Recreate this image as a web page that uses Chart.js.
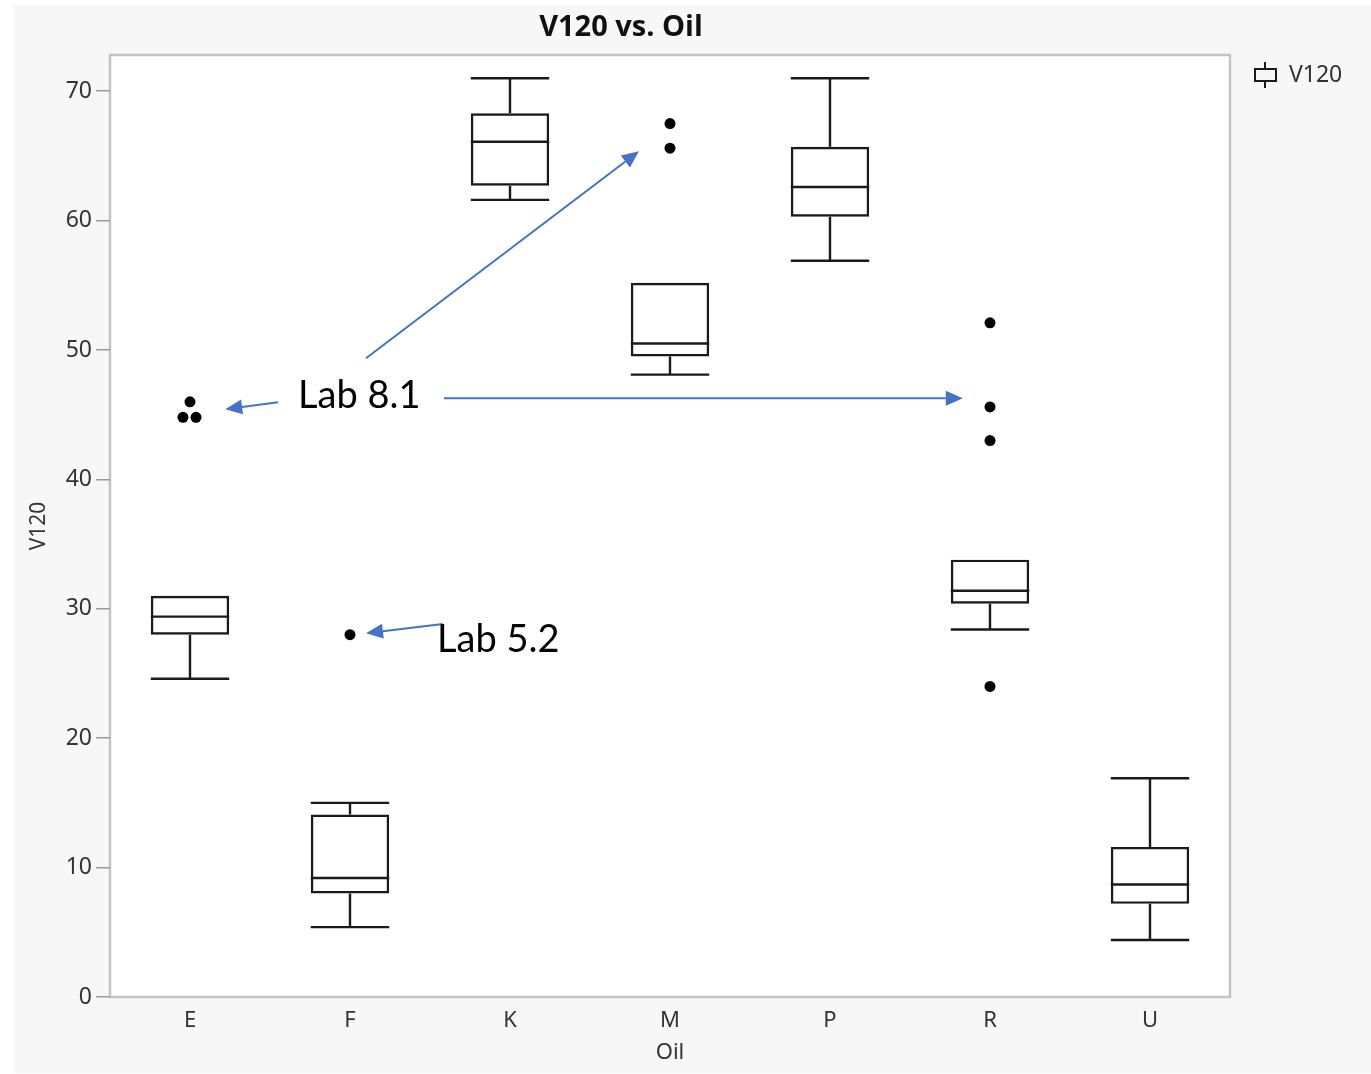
<!DOCTYPE html>
<html>
<head>
<meta charset="utf-8">
<title>V120 vs. Oil</title>
<script src="https://cdn.jsdelivr.net/npm/chart.js@4.4.1/dist/chart.umd.min.js"></script>
<style>
  html, body { margin: 0; padding: 0; background: #fff; }
  canvas { display: block; }
</style>
</head>
<body>
<canvas id="grafico" width="1371" height="1074"></canvas>
<script>
// datos
const categorias = ['E', 'F', 'K', 'M', 'P', 'R', 'U'];
const bigoteBajo = [24.6, 5.4, 61.6, 48.1, 56.9, 28.4, 4.4];
const q1 = [28.0, 8.0, 62.7, 49.5, 60.3, 30.4, 7.2];
const mediana = [29.4, 9.2, 66.1, 50.5, 62.6, 31.4, 8.7];
const q3 = [31.0, 14.1, 68.3, 55.2, 65.7, 33.8, 11.6];
const bigoteAlto = [31.0, 15.0, 71.0, 55.2, 71.0, 33.8, 16.9];

// puntos atípicos: categoría, valor
const atipicosCat = [0, 0, 0, 1, 3, 3, 5, 5, 5, 5];
const atipicosVal = [46.0, 44.8, 44.8, 28.0, 67.5, 65.6, 52.1, 45.6, 43.0, 24.0];
const atipicosJitter = [0, -0.044, 0.0375, 0, 0, 0, 0, 0, 0, 0];

const ticksY = [0, 10, 20, 30, 40, 50, 60, 70];
const maxY = 72.8;

// anotaciones (en coordenadas de datos)
const notas = [
    { texto: 'Lab 8.1', x: 0.675, y: 45.5 },
    { texto: 'Lab 5.2', x: 1.544, y: 26.66 }
];
const flechas = [
    { x0: 0.55, y0: 45.97, x1: 0.22, y1: 45.43 },
    { x0: 1.10, y0: 49.37, x1: 2.806, y1: 65.36 },
    { x0: 1.5875, y0: 46.28, x1: 4.83, y1: 46.28 },
    { x0: 1.58, y0: 28.82, x1: 1.10, y1: 28.12 }
];

const AZUL = '#4472C4';
const NEGRO = '#1a1a1a';
const TEXTO = '#333';

// Fondo gris, área blanca, título y leyenda
const fondoPlugin = {
    id: 'fondo',
    beforeDraw(chart) {
        const { ctx, chartArea: a } = chart;
        ctx.save();
        ctx.fillStyle = '#f7f7f7';
        ctx.fillRect(14, 5, chart.width - 14, 1068);
        ctx.fillStyle = '#fff';
        ctx.fillRect(a.left, a.top, a.right - a.left, a.bottom - a.top);
        ctx.strokeStyle = '#c4c4c4';
        ctx.lineWidth = 2.5;
        ctx.strokeRect(a.left, a.top, a.right - a.left, a.bottom - a.top);

        // título
        ctx.fillStyle = '#111';
        ctx.font = 'bold 29px "Open Sans"';
        ctx.textAlign = 'center';
        ctx.textBaseline = 'middle';
        ctx.fillText('V120 vs. Oil', 621, 28);

        // leyenda
        ctx.strokeStyle = NEGRO;
        ctx.lineWidth = 2;
        ctx.beginPath();
        ctx.moveTo(1265, 62); ctx.lineTo(1265, 88);
        ctx.stroke();
        ctx.fillStyle = '#f7f7f7';
        ctx.fillRect(1255, 69, 21, 12);
        ctx.strokeRect(1255, 69, 21, 12);
        ctx.fillStyle = TEXTO;
        ctx.font = '23px "Noto Sans"';
        ctx.textAlign = 'left';
        ctx.fillText('V120', 1289, 75);
        ctx.restore();
    }
};

// Bigotes y medianas sobre las cajas
const cajasPlugin = {
    id: 'cajas',
    afterDatasetsDraw(chart) {
        const { ctx } = chart;
        const y = chart.scales.y;
        const meta = chart.getDatasetMeta(0);
        ctx.save();
        ctx.strokeStyle = NEGRO;
        ctx.lineWidth = 2.4;
        meta.data.forEach((bar, i) => {
            const x = bar.x;
            const w = bar.width / 2;
            const yMed = y.getPixelForValue(mediana[i]);
            const yQ1 = y.getPixelForValue(q1[i]);
            const yQ3 = y.getPixelForValue(q3[i]);
            const yLo = y.getPixelForValue(bigoteBajo[i]);
            const yHi = y.getPixelForValue(bigoteAlto[i]);
            ctx.beginPath();
            ctx.moveTo(x - w, yMed); ctx.lineTo(x + w, yMed);
            if (bigoteAlto[i] > q3[i]) {
                ctx.moveTo(x, yQ3); ctx.lineTo(x, yHi);
                ctx.moveTo(x - w, yHi); ctx.lineTo(x + w, yHi);
            }
            if (bigoteBajo[i] < q1[i]) {
                ctx.moveTo(x, yQ1); ctx.lineTo(x, yLo);
                ctx.moveTo(x - w, yLo); ctx.lineTo(x + w, yLo);
            }
            ctx.stroke();
        });
        ctx.restore();
    }
};

// Flechas y textos de anotación
const notasPlugin = {
    id: 'notas',
    afterDraw(chart) {
        const { ctx } = chart;
        const sx = chart.scales.xl;
        const sy = chart.scales.y;
        ctx.save();
        ctx.strokeStyle = AZUL;
        ctx.fillStyle = AZUL;
        ctx.lineWidth = 2;
        flechas.forEach(f => {
            const x0 = sx.getPixelForValue(f.x0), y0 = sy.getPixelForValue(f.y0);
            const x1 = sx.getPixelForValue(f.x1), y1 = sy.getPixelForValue(f.y1);
            const ang = Math.atan2(y1 - y0, x1 - x0);
            const largo = 17, ancho = 7.5;
            const bx = x1 - largo * Math.cos(ang), by = y1 - largo * Math.sin(ang);
            ctx.beginPath();
            ctx.moveTo(x0, y0); ctx.lineTo(bx, by);
            ctx.stroke();
            ctx.beginPath();
            ctx.moveTo(x1, y1);
            ctx.lineTo(bx + ancho * Math.sin(ang), by - ancho * Math.cos(ang));
            ctx.lineTo(bx - ancho * Math.sin(ang), by + ancho * Math.cos(ang));
            ctx.closePath();
            ctx.fill();
        });
        ctx.fillStyle = '#000';
        ctx.font = '38px Lato';
        ctx.textAlign = 'left';
        ctx.textBaseline = 'alphabetic';
        notas.forEach(n => {
            ctx.fillText(n.texto, sx.getPixelForValue(n.x), sy.getPixelForValue(n.y));
        });
        ctx.restore();
    }
};

const ctx = document.getElementById('grafico').getContext('2d');
new Chart(ctx, {
    type: 'bar',
    data: {
        labels: categorias,
        datasets: [{
            label: 'V120',
            data: q1.map((v, i) => [v, q3[i]]),
            backgroundColor: 'rgba(0,0,0,0)',
            borderColor: NEGRO,
            borderWidth: 2.4,
            borderSkipped: false,
            grouped: false,
            barPercentage: 0.49,
            categoryPercentage: 1
        }, {
            type: 'scatter',
            label: 'atípicos',
            xAxisID: 'xl',
            data: atipicosVal.map((v, i) => ({ x: atipicosCat[i] + atipicosJitter[i], y: v })),
            backgroundColor: '#000',
            borderColor: '#000',
            pointRadius: 5.5,
            borderWidth: 0
        }]
    },
    options: {
        responsive: false,
        animation: false,
        layout: { padding: { left: 0, top: 55, right: 141, bottom: 0 } },
        plugins: {
            legend: { display: false },
            title: { display: false },
            tooltip: { enabled: false }
        },
        scales: {
            x: {
                type: 'category',
                offset: true,
                grid: { display: false },
                border: { display: false },
                ticks: { color: TEXTO, font: { family: 'Noto Sans', size: 22 }, padding: 3 },
                title: { display: true, text: 'Oil', color: TEXTO, font: { family: 'Noto Sans', size: 22 }, padding: { top: 0, bottom: 8 } },
                afterFit(scale) { scale.height = 77; }
            },
            xl: {
                type: 'linear',
                display: false,
                offset: false,
                min: -0.5,
                max: 6.5
            },
            y: {
                min: 0,
                max: maxY,
                afterBuildTicks(scale) { scale.ticks = ticksY.map(v => ({ value: v })); },
                grid: { drawOnChartArea: false, drawTicks: true, tickLength: 14, color: '#9a9a9a', lineWidth: 1.5 },
                border: { display: false },
                ticks: { color: TEXTO, font: { family: 'Noto Sans', size: 23 }, padding: 4 },
                title: { display: true, text: 'V120', color: TEXTO, font: { family: 'Noto Sans', size: 21 }, padding: { top: 26, bottom: 0 } },
                afterFit(scale) { scale.width = 110; }
            }
        }
    },
    plugins: [fondoPlugin, cajasPlugin, notasPlugin]
});
</script>
</body>
</html>
